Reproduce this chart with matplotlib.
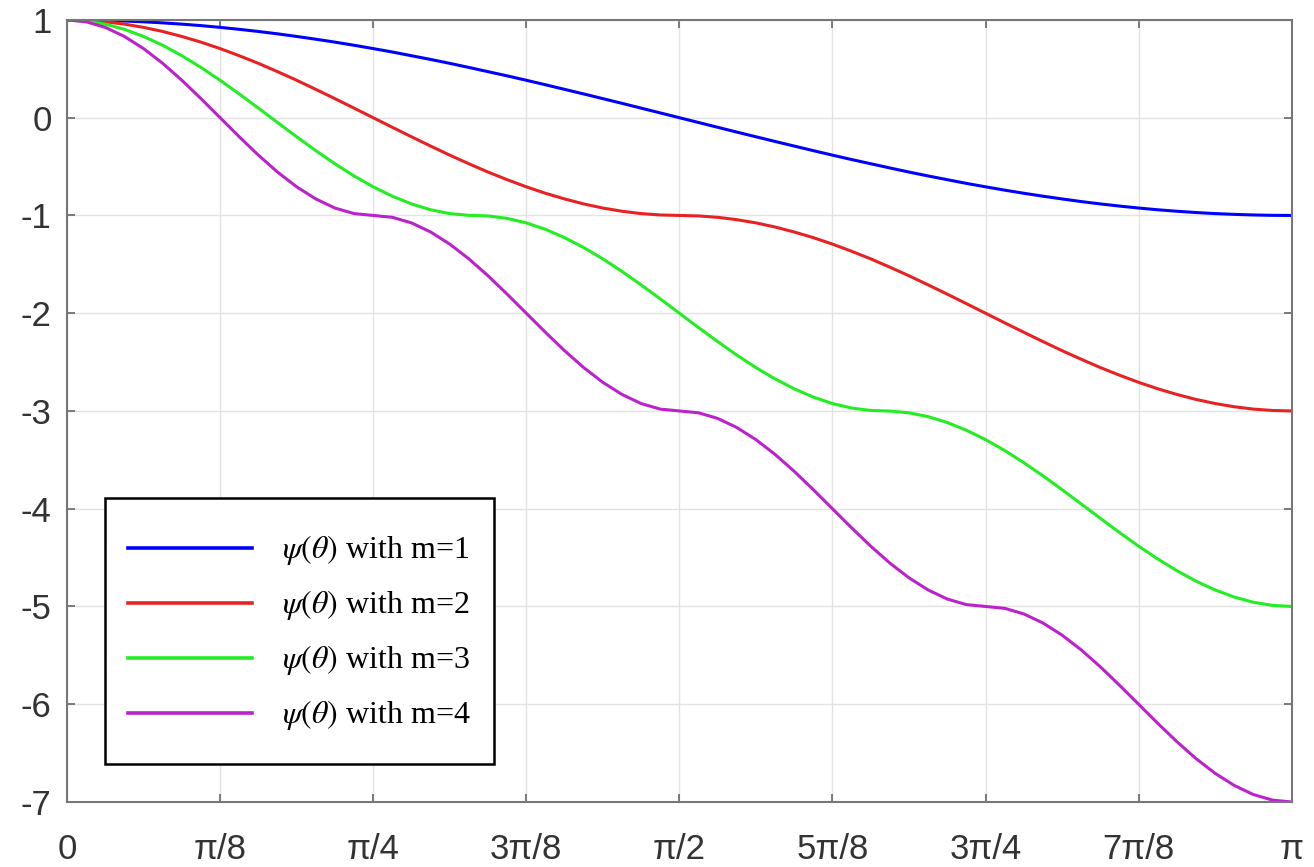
import numpy as np
import matplotlib
matplotlib.use('Agg')
import matplotlib.pyplot as plt
from matplotlib.lines import Line2D
from matplotlib.legend_handler import HandlerLine2D

# ---------------------------
# Data read off the reference (theta sampled every pi/64)
# ---------------------------
theta = np.linspace(0, np.pi, 65)

psi_m1 = [1.000, 0.999, 0.995, 0.989, 0.981, 0.970, 0.957, 0.942, 0.924, 0.904, 0.882,
          0.858, 0.831, 0.803, 0.773, 0.741, 0.707, 0.672, 0.634, 0.596, 0.556, 0.514,
          0.471, 0.428, 0.383, 0.337, 0.290, 0.243, 0.195, 0.147, 0.098, 0.049, 0.000,
          -0.049, -0.098, -0.147, -0.195, -0.243, -0.290, -0.337, -0.383, -0.428, -0.471,
          -0.514, -0.556, -0.596, -0.634, -0.672, -0.707, -0.741, -0.773, -0.803, -0.831,
          -0.858, -0.882, -0.904, -0.924, -0.942, -0.957, -0.970, -0.981, -0.989, -0.995,
          -0.999, -1.000]

psi_m2 = [1.000, 0.995, 0.981, 0.957, 0.924, 0.882, 0.831, 0.773, 0.707, 0.634, 0.556,
          0.471, 0.383, 0.290, 0.195, 0.098, 0.000, -0.098, -0.195, -0.290, -0.383, -0.471,
          -0.556, -0.634, -0.707, -0.773, -0.831, -0.882, -0.924, -0.957, -0.981, -0.995,
          -1.000,
          -1.005, -1.019, -1.043, -1.076, -1.118, -1.169, -1.227, -1.293, -1.366, -1.444,
          -1.529, -1.617, -1.710, -1.805, -1.902, -2.000, -2.098, -2.195, -2.290, -2.383,
          -2.471, -2.556, -2.634, -2.707, -2.773, -2.831, -2.882, -2.924, -2.957, -2.981,
          -2.995, -3.000]

psi_m3 = [1.000, 0.989, 0.957, 0.904, 0.831, 0.741, 0.634, 0.514, 0.383, 0.243, 0.098,
          -0.049, -0.195, -0.337, -0.471, -0.596, -0.707, -0.803, -0.882, -0.942, -0.981,
          -0.999, -1.005, -1.030, -1.076, -1.142, -1.227, -1.328, -1.444, -1.572, -1.710,
          -1.853, -2.000, -2.147, -2.290, -2.428, -2.556, -2.672, -2.773, -2.858, -2.924,
          -2.970, -2.995, -3.001, -3.019, -3.058, -3.118, -3.197, -3.293, -3.404, -3.529,
          -3.663, -3.805, -3.951, -4.098, -4.243, -4.383, -4.514, -4.634, -4.741, -4.831,
          -4.904, -4.957, -4.989, -5.000]

psi_m4 = [1.000, 0.981, 0.924, 0.831, 0.707, 0.556, 0.383, 0.195, 0.000, -0.195, -0.383,
          -0.556, -0.707, -0.831, -0.924, -0.981,
          -1.000, -1.019, -1.076, -1.169, -1.293, -1.444, -1.617, -1.805, -2.000, -2.195,
          -2.383, -2.556, -2.707, -2.831, -2.924, -2.981,
          -3.000, -3.019, -3.076, -3.169, -3.293, -3.444, -3.617, -3.805, -4.000, -4.195,
          -4.383, -4.556, -4.707, -4.831, -4.924, -4.981,
          -5.000, -5.019, -5.076, -5.169, -5.293, -5.444, -5.617, -5.805, -6.000, -6.195,
          -6.383, -6.556, -6.707, -6.831, -6.924, -6.981, -7.000]

m_values = [1, 2, 3, 4]
x_tick_labels = ['0', 'π/8', 'π/4', '3π/8', 'π/2', '5π/8', '3π/4', '7π/8', 'π']
y_ticks = [-7, -6, -5, -4, -3, -2, -1, 0, 1]


# legend handle lowered a bit so it sits level with the label text
class LoweredLine(HandlerLine2D):
    def create_artists(self, legend, orig_handle, xdescent, ydescent, width, height,
                       fontsize, trans):
        arts = super().create_artists(legend, orig_handle, xdescent, ydescent, width,
                                      height, fontsize, trans)
        for a in arts:
            a.set_ydata(np.asarray(a.get_ydata(), dtype=float) - 6.0)
        return arts


# ---------------------------
# Plot
# ---------------------------
plt.rcParams['mathtext.fontset'] = 'stix'
plt.rcParams['axes.unicode_minus'] = False
plt.rcParams['font.family'] = ['Liberation Sans', 'DejaVu Sans']

fig = plt.figure(figsize=(13.14, 8.67), dpi=100)
ax = fig.add_axes([0.051, 0.075, 0.932, 0.902])

colors = ['#0000ff', '#e82222', '#22ee22', '#bb22cc']
series = [psi_m1, psi_m2, psi_m3, psi_m4]
for m, vals, c in zip(m_values, series, colors):
    ax.plot(theta, vals, color=c, lw=2.2, label=r'$\psi(\theta)$ with m=%d' % m)

ax.set_xlim(0, np.pi)
ax.set_ylim(-7, 1)
ax.set_xticks(np.arange(9) * np.pi / 8)
ax.set_xticklabels(x_tick_labels)
ax.set_yticks(y_ticks)

ax.grid(True, color='#e3e3e3', lw=1)
ax.tick_params(direction='in', top=True, right=True, length=6, width=1.2,
               color='#666666', labelcolor='#333333', labelsize=25)
ax.tick_params(axis='x', pad=22)
ax.tick_params(axis='y', pad=11)
for s in ax.spines.values():
    s.set_color('#777777')
    s.set_linewidth(1.5)

leg = ax.legend(loc='lower left', bbox_to_anchor=(0.031, 0.049), borderaxespad=0,
                prop={'family': 'Liberation Serif', 'size': 23},
                handlelength=3.87, handletextpad=0.96, handleheight=2.27,
                labelspacing=0.0, borderpad=0.72, fancybox=False, framealpha=1,
                handler_map={Line2D: LoweredLine()})
leg.get_frame().set_edgecolor('black')
leg.get_frame().set_linewidth(1.8)
for line in leg.get_lines():
    line.set_linewidth(2.6)

fig.savefig('out.png', dpi=100)
